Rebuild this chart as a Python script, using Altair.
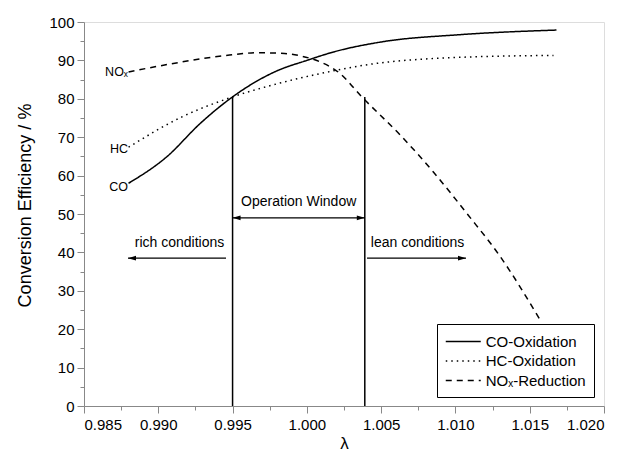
import altair as alt
import pandas as pd

FONT = "Liberation Sans"

# ---- data ----
lam_co = [0.988, 0.9906, 0.9928, 0.995, 0.998, 1.0, 1.0018, 1.005, 1.0103, 1.0168]
co = [58.0, 65.0, 73.5, 80.5, 87.3, 90.0, 92.2, 94.8, 96.7, 97.9]

lam_hc = [0.988, 0.9916, 0.995, 0.9977, 1.0007, 1.0041, 1.0103, 1.0166]
hc = [67.4, 75.3, 80.5, 83.6, 86.4, 88.9, 90.8, 91.3]

lam_nox = [0.988, 0.9916, 0.9948, 0.9967, 0.9985, 0.99954, 1.0009, 1.0022, 1.0037,
           1.0063, 1.0085, 1.0108, 1.013, 1.0157]
nox = [87.0, 89.6, 91.4, 92.0, 91.8, 91.2, 89.6, 86.7, 80.5, 70.5, 61.0, 50.0, 39.0, 22.4]

series_names = ["CO-Oxidation", "HC-Oxidation", "NOₓ-Reduction"]

window_lam = [0.995, 1.0039]
window_top = [80.5, 80.5]

curve_labels = ["NOₓ", "HC", "CO"]
curve_label_y = [87.0, 66.9, 57.0]

x_major = [0.985, 0.990, 0.995, 1.000, 1.005, 1.010, 1.015, 1.020]
x_minor = [0.9875, 0.9925, 0.9975, 1.0025, 1.0075, 1.0125, 1.0175]
y_major = [0, 10, 20, 30, 40, 50, 60, 70, 80, 90, 100]
y_minor = [5, 15, 25, 35, 45, 55, 65, 75, 85, 95]

rows = []
for name, lx, ly in zip(series_names, [lam_co, lam_hc, lam_nox], [co, hc, nox]):
    for a, b in zip(lx, ly):
        rows.append({"lam": a, "eff": b, "series": name})
df = pd.DataFrame(rows)

x_scale = alt.Scale(domain=[0.985, 1.020], nice=False, zero=False)
y_scale = alt.Scale(domain=[0, 100], nice=False)

x_axis = alt.Axis(
    values=x_major, format=".3f", tickSize=7, orient="bottom",
    title="λ", titleFontSize=17, titleFontWeight="normal", titlePadding=3,
    labelFontSize=15, labelPadding=4, grid=False, labelOverlap=False,
)
y_axis = alt.Axis(
    values=y_major, tickSize=7, orient="left",
    title="Conversion Efficiency / %", titleFontSize=18, titleFontWeight="normal",
    titlePadding=14, titleY=183,
    labelFontSize=15, labelPadding=3, grid=False, labelOverlap=False,
)
x_axis_minor = alt.Axis(values=x_minor, tickSize=4, labels=False, domain=False,
                        title=None, grid=False, orient="bottom")
y_axis_minor = alt.Axis(values=y_minor, tickSize=4, labels=False, domain=False,
                        title=None, grid=False, orient="left")

lines = alt.Chart(df).mark_line(color="black", strokeWidth=1.5, interpolate="monotone").encode(
    x=alt.X("lam:Q", scale=x_scale, axis=x_axis),
    y=alt.Y("eff:Q", scale=y_scale, axis=y_axis),
    strokeDash=alt.StrokeDash(
        "series:N",
        scale=alt.Scale(domain=series_names, range=[[1, 0], [1.5, 4], [6, 5]]),
        legend=alt.Legend(
            title=None, orient="none", legendX=353, legendY=302,
            strokeColor="black", fillColor="white", padding=8,
            symbolType="M-2,0H2", symbolSize=306, symbolOffset=8.75,
            symbolStrokeWidth=1.5, symbolStrokeColor="black",
            symbolFillColor="transparent",
            labelFontSize=15, labelFont=FONT, labelColor="black",
            rowPadding=1.5, labelOffset=13,
        ),
    ),
)

vdf = pd.DataFrame({"lam": window_lam, "top": window_top, "bottom": [0, 0]})
vlines = alt.Chart(vdf).mark_rule(color="black", strokeWidth=1.5).encode(
    x=alt.X("lam:Q", axis=x_axis_minor),
    y=alt.Y("bottom:Q", axis=y_axis_minor),
    y2="top:Q",
)

ldf = pd.DataFrame({"lam": [0.98796] * 3, "eff": curve_label_y, "txt": curve_labels})
clabels = alt.Chart(ldf).mark_text(font=FONT, fontSize=12.5, align="right", baseline="middle").encode(
    x=alt.X("lam:Q", axis=None), y=alt.Y("eff:Q", axis=None), text="txt:N"
)

# arrows
arrow_rows = pd.DataFrame({
    "x1": [0.995, 0.98796, 1.00405],
    "x2": [1.0039, 0.99456, 1.01071],
    "y": [49.0, 38.5, 38.5],
})
arrows = alt.Chart(arrow_rows).mark_rule(color="black", strokeWidth=1.2).encode(
    x=alt.X("x1:Q", axis=None), x2="x2:Q", y=alt.Y("y:Q", axis=None)
)
heads_left = pd.DataFrame({"lam": [0.995, 0.98796], "eff": [49.0, 38.5]})
heads_right = pd.DataFrame({"lam": [1.0039, 1.01071], "eff": [49.0, 38.5]})
hl = alt.Chart(heads_left).mark_point(shape="M0,0L2,-0.6L2,0.6Z", filled=True, color="black",
                                      size=64, opacity=1).encode(
    x=alt.X("lam:Q", axis=None), y=alt.Y("eff:Q", axis=None))
hr = alt.Chart(heads_right).mark_point(shape="M0,0L-2,-0.6L-2,0.6Z", filled=True, color="black",
                                       size=64, opacity=1).encode(
    x=alt.X("lam:Q", axis=None), y=alt.Y("eff:Q", axis=None))

tdf = pd.DataFrame({
    "lam": [0.99945, 0.99143, 1.00745],
    "eff": [53.0, 42.5, 42.5],
    "txt": ["Operation Window", "rich conditions", "lean conditions"],
})
texts = alt.Chart(tdf).mark_text(font=FONT, fontSize=14, align="center", baseline="middle").encode(
    x=alt.X("lam:Q", axis=None), y=alt.Y("eff:Q", axis=None), text="txt:N"
)

chart = alt.layer(lines, vlines, clabels, arrows, hl, hr, texts).resolve_axis(
    x="independent", y="independent"
).properties(
    width=520, height=384,
    autosize=alt.AutoSizeParams(type="none"),
    padding={"left": 76, "top": 14, "right": 10, "bottom": 51},
).configure_view(
    stroke="black", strokeWidth=2
).configure_axis(
    domainColor="black", domainWidth=2, tickColor="black", tickWidth=1.5,
    labelColor="black", titleColor="black", labelFont=FONT, titleFont=FONT,
).configure(background="white")

chart.save("out.html", embed_options={"renderer": "svg", "actions": False})
